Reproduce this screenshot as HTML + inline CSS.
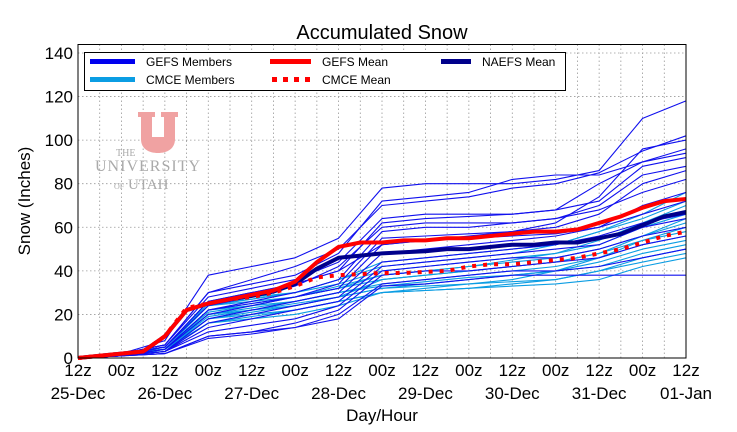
<!DOCTYPE html>
<html><head><meta charset="utf-8"><style>
html,body{margin:0;padding:0;background:#fff;}
svg{display:block;font-family:"Liberation Sans",sans-serif;}
</style></head><body>
<svg id="chart" width="737" height="432">
<text x="382" y="39" text-anchor="middle" font-size="20" fill="#000">Accumulated Snow</text>
<text transform="translate(30,201) rotate(-90)" text-anchor="middle" font-size="17" fill="#000">Snow (Inches)</text>
<text x="382" y="421" text-anchor="middle" font-size="17" fill="#000">Day/Hour</text>
<g id="grid"></g>
<g id="logo">
<path d="M138,112 h17 v5 h-3 v20 h12 v-20 h-3 v-5 h17 v5 h-3 v22 c0,10 -8,14 -17,14 c-9,0 -17,-4 -17,-14 v-22 h-3z" fill="#f0a2a2"/>
<text x="116" y="156" font-family="Liberation Serif,serif" font-size="10" fill="#aaa">THE</text>
<text x="95" y="171" font-family="Liberation Serif,serif" font-size="16" fill="#aaa" letter-spacing="1">UNIVERSITY</text>
<text x="114" y="189" font-family="Liberation Serif,serif" font-size="15" fill="#aaa"><tspan font-size="8">OF</tspan> UTAH</text>
</g>
<g id="series"></g>
<rect x="78" y="44.5" width="608" height="313.5" fill="none" stroke="#000" stroke-width="1"/>
<g id="axes"></g>
<g id="legend">
<rect x="84.5" y="52.5" width="481" height="38" fill="#fff" stroke="#000" stroke-width="1"/>
<line x1="90" y1="61.5" x2="135" y2="61.5" stroke="#0000ee" stroke-width="5"/>
<text x="146" y="66" font-size="12">GEFS Members</text>
<line x1="90" y1="79.5" x2="135" y2="79.5" stroke="#0b9de3" stroke-width="5"/>
<text x="146" y="84" font-size="12">CMCE Members</text>
<line x1="270" y1="61.5" x2="311" y2="61.5" stroke="#f00" stroke-width="5"/>
<text x="322" y="66" font-size="12">GEFS Mean</text>
<line x1="272" y1="79.5" x2="311" y2="79.5" stroke="#f00" stroke-width="5" stroke-dasharray="5,6"/>
<text x="322" y="84" font-size="12">CMCE Mean</text>
<line x1="441" y1="61.5" x2="471" y2="61.5" stroke="#00008b" stroke-width="5"/>
<text x="482" y="66" font-size="12">NAEFS Mean</text>
</g>
</svg>
<script>
const hourLabels=["12z","00z","12z","00z","12z","00z","12z","00z","12z","00z","12z","00z","12z","00z","12z"];
const dayLabels=["25-Dec","26-Dec","27-Dec","28-Dec","29-Dec","30-Dec","31-Dec","01-Jan"];
const yTicks=[0,20,40,60,80,100,120,140];
const gefsMean=[0,1,2,3,10,22,25,27,29,31,35,44,51,53,53,54,54,55,55,56,57,58,58,59,62,65,69,72,73];
const cmceMean=[0,1,2,3,10,23,25,27,28,30,33,37,38,38.5,39,39,39.5,40,42,43,43,44,45,46,48,50,53,56,58];
const naefsMean=[0,1,2,3,10,22,25,27,28.5,30.5,34,41,46,47,48,48.5,49,50,50,51,52,52,53,53,55,57,61,65,67];
const gefsMembers=[
[0,2,8,38,42,46,55,78,80,80,80,82,86,110,118],
[0,2,6,30,36,42,50,70,72,74,78,80,85,95,102],
[0,2,6,28,32,36,44,64,66,66,66,68,80,90,96],
[0,2,5,26,30,34,40,62,64,65,66,68,72,88,92],
[0,1,5,24,28,33,42,60,62,62,62,64,70,84,88],
[0,1,4,22,26,30,36,58,60,60,62,64,68,76,82],
[0,1,4,22,25,28,34,55,56,57,58,60,66,80,86],
[0,1,4,20,24,28,32,52,54,55,56,57,60,70,76],
[0,1,3,18,22,26,30,48,50,52,54,56,60,66,72],
[0,1,3,16,20,24,28,44,46,48,50,52,56,62,66],
[0,1,3,14,18,22,26,42,44,46,48,50,52,60,64],
[0,1,3,12,15,18,24,40,42,44,46,46,50,56,60],
[0,1,2,10,12,16,22,38,40,40,42,44,46,52,56],
[0,1,2,10,12,14,20,34,36,38,40,40,42,46,50],
[0,1,2,9,11,14,18,33,34,36,38,38,38,38,38],
[0,2,6,30,34,38,48,72,74,76,82,84,84,90,94],
[0,2,5,26,30,34,40,52,54,56,58,62,74,96,100]];
const cmceMembers=[
[0,2,5,26,28,30,36,44,46,48,50,52,58,66,76],
[0,2,5,25,27,30,34,40,42,44,46,48,54,62,70],
[0,2,5,24,26,28,32,38,40,42,44,46,50,56,62],
[0,2,4,22,25,28,32,36,38,40,42,44,48,54,58],
[0,2,4,22,24,26,30,34,36,38,40,42,46,52,56],
[0,2,4,20,23,26,30,33,35,37,38,40,44,50,54],
[0,2,4,20,22,25,28,32,34,36,38,40,42,48,52],
[0,2,4,18,21,24,28,32,33,34,35,36,40,44,48],
[0,2,4,18,20,22,26,30,31,32,33,34,36,42,46],
[0,2,4,16,19,22,26,30,31,32,34,36,40,46,50],
[0,2,3,16,18,20,24,30,32,34,36,40,46,54,60],
[0,2,4,24,27,30,36,42,44,46,48,52,58,64,72],
[0,2,4,21,24,28,33,38,40,42,45,48,52,60,66],
[0,2,4,19,22,24,28,36,38,40,42,44,48,56,64]];

const NS="http://www.w3.org/2000/svg";
const X0=78,X1=686,Y0=358,YTOP=44.5,YMAX=143.9,HMAX=168;
function xs(h){return X0+(X1-X0)*h/HMAX;}
function ys(v){return Y0-(Y0-YTOP)*v/YMAX;}
function mk(tag,attrs,parent){const e=document.createElementNS(NS,tag);for(const k in attrs)e.setAttribute(k,attrs[k]);parent.appendChild(e);return e;}
const grid=document.getElementById('grid'),axes=document.getElementById('axes'),series=document.getElementById('series');
for(let h=6;h<HMAX;h+=6){const l=mk('line',{x1:xs(h),x2:xs(h),y1:YTOP,y2:Y0,stroke:'#999','stroke-width':0.8,'stroke-dasharray':'1.5,2.5'},grid);

}
yTicks.forEach(v=>{if(v>0){const l=mk('line',{x1:X0,x2:X1,y1:ys(v),y2:ys(v),stroke:'#999','stroke-width':0.8,'stroke-dasharray':'1.5,2.5'},grid);

}
const t=mk('text',{x:X0-5,y:ys(v)+6,'text-anchor':'end','font-size':17},axes);t.textContent=v;

});
hourLabels.forEach((s,i)=>{const t=mk('text',{x:xs(i*12),y:376,'text-anchor':'middle','font-size':17},axes);t.textContent=s;

});
dayLabels.forEach((s,i)=>{const t=mk('text',{x:xs(i*24),y:399,'text-anchor':'middle','font-size':17},axes);t.textContent=s;

});
function line(vals,step,attrs,name){const pts=vals.map((v,i)=>xs(i*step).toFixed(1)+','+ys(v).toFixed(1)).join(' ');
const p=mk('polyline',Object.assign({points:pts,fill:'none','stroke-linejoin':'round'},attrs),series);

}
cmceMembers.forEach(m=>line(m,12,{stroke:'#0b9de3','stroke-width':1.1},'cmce-member-line'));
gefsMembers.forEach(m=>line(m,12,{stroke:'#1010ee','stroke-width':1.1},'gefs-member-line'));
line(naefsMean,6,{stroke:'#00008b','stroke-width':4},'naefs-mean-line');
line(gefsMean,6,{stroke:'#f00','stroke-width':4},'gefs-mean-line');
line(cmceMean,6,{stroke:'#f00','stroke-width':4,'stroke-dasharray':'4,7'},'cmce-mean-line');
</script>
</body></html>
